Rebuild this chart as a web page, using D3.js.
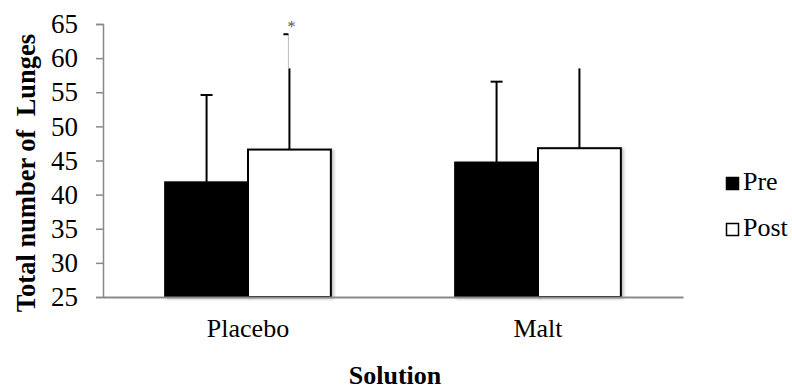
<!DOCTYPE html>
<html>
<head>
<meta charset="utf-8">
<script src="https://cdn.jsdelivr.net/npm/d3@7"></script>
<style>
  body { margin: 0; background: #fff; }
  svg { display: block; }
  svg text { font-family: "Liberation Serif", "Times New Roman", Tinos, serif !important; fill: #000; }
</style>
</head>
<body>
<svg id="chart"></svg>
<script>
// values
const solutions = ['Placebo', 'Malt']
const series = ['Pre', 'Post']
const preMeans = [41.8, 44.7]
const postMeans = [46.6, 46.8]
const preErr = [12.8, 11.85]
const postErr = [11.9, 11.7]
const yTicks = [25, 30, 35, 40, 45, 50, 55, 60, 65]
const sigTop = 63.5   // grey line with the * above Placebo / Post

const width = 792, height = 392
const marginTop = 24, marginRight = 109, marginBottom = 95, marginLeft = 103

const svg = d3.select('#chart')
              .attr('width', width)
              .attr('height', height)
              .attr('viewBox', [0, 0, width, height])

const defs = svg.append('defs')
const shadow = defs.append('filter').attr('id', 'shadow')
                   .attr('x', '-10%').attr('y', '-10%')
                   .attr('width', '130%').attr('height', '130%')
shadow.append('feDropShadow')
      .attr('dx', 2).attr('dy', 1)
      .attr('stdDeviation', 1.5)
      .attr('flood-color', '#000')
      .attr('flood-opacity', 0.25)

const xScale = d3.scaleBand(solutions, [marginLeft, width - marginRight])
const xInner = d3.scaleBand(series, [0, xScale.bandwidth()]).paddingOuter(0.75).paddingInner(0)
const yScale = d3.scaleLinear([25, 65], [height - marginBottom, marginTop])

const color = d3.scaleOrdinal(series, ['#000', '#fff'])

const rows = solutions.flatMap((s, i) => [
    {solution: s, key: 'Pre', value: preMeans[i], err: preErr[i]},
    {solution: s, key: 'Post', value: postMeans[i], err: postErr[i]},
])

// y axis
svg.append('g')
   .attr('transform', `translate(${marginLeft},0)`)
   .call(d3.axisLeft(yScale).tickValues(yTicks).tickSize(7).tickSizeOuter(7).tickPadding(18))
   .call(g => g.attr('font-family', null))
   .call(g => g.select('.domain').attr('stroke', '#898989').attr('stroke-width', 1.5))
   .call(g => g.selectAll('.tick line').attr('stroke', '#898989').attr('stroke-width', 1.5))
   .call(g => g.selectAll('.tick text')
               .attr('font-size', 27)
               .attr('fill', '#111'))

// bars
const bar = svg.append('g')
   .selectAll('rect')
   .data(rows)
   .join('rect')
     .attr('x', d => xScale(d.solution) + xInner(d.key))
     .attr('width', xInner.bandwidth())
     .attr('y', d => yScale(d.value))
     .attr('height', d => yScale(25) - yScale(d.value))
     .attr('fill', d => color(d.key))
     .attr('stroke', '#000')
     .attr('stroke-width', 2)
     .attr('filter', 'url(#shadow)')

// error bars (upper only)
const cx = d => xScale(d.solution) + xInner(d.key) + xInner.bandwidth() / 2
const errs = svg.append('g').attr('stroke', '#000').attr('stroke-width', 2)
errs.selectAll('line.err')
    .data(rows)
    .join('line')
      .attr('class', 'err')
      .attr('x1', cx).attr('x2', cx)
      .attr('y1', d => yScale(d.value))
      .attr('y2', d => yScale(d.value + d.err))
// caps on the Pre bars only, as in the picture
errs.selectAll('line.cap')
    .data(rows.filter(d => d.key === 'Pre'))
    .join('line')
      .attr('class', 'cap')
      .attr('x1', d => cx(d) - 6).attr('x2', d => cx(d) + 6)
      .attr('y1', d => yScale(d.value + d.err))
      .attr('y2', d => yScale(d.value + d.err))

// significance marker over Placebo / Post
const sig = rows.find(d => d.solution === 'Placebo' && d.key === 'Post')
svg.append('line')
   .attr('x1', cx(sig) - 1).attr('x2', cx(sig) - 1)
   .attr('y1', yScale(sig.value + sig.err))
   .attr('y2', yScale(sigTop))
   .attr('stroke', '#bbb').attr('stroke-width', 1)
svg.append('line')
   .attr('x1', cx(sig) - 6).attr('x2', cx(sig) - 1)
   .attr('y1', yScale(sigTop)).attr('y2', yScale(sigTop))
   .attr('stroke', '#000').attr('stroke-width', 2)
svg.append('text')
   .attr('x', cx(sig) + 2)
   .attr('y', yScale(sigTop) - 2)
   .attr('text-anchor', 'middle')
   .attr('font-size', 16)
   .style('fill', '#555')
   .text('*')

// x axis baseline
svg.append('g')
   .attr('transform', `translate(0,${yScale(25)})`)
   .call(d3.axisBottom(xScale).tickSize(0).tickPadding(22))
   .call(g => g.attr('font-family', null))
   .call(g => g.select('.domain').attr('stroke', '#898989').attr('stroke-width', 2))
   .call(g => g.selectAll('.tick text')
               .attr('font-size', 26)
               .attr('fill', '#000'))

// axis titles
svg.append('text')
   .attr('x', (marginLeft + width - marginRight) / 2 + 2)
   .attr('y', 384)
   .attr('text-anchor', 'middle')
   .attr('font-weight', 'bold')
   .attr('font-size', 26)
   .text('Solution')

svg.append('text')
   .attr('transform', `translate(35,${173}) rotate(-90)`)
   .attr('text-anchor', 'middle')
   .attr('font-weight', 'bold')
   .attr('font-size', 26.5)
   .attr('xml:space', 'preserve')
   .style('white-space', 'pre')
   .text('Total number of  Lunges')

// legend
const legend = svg.append('g')
   .selectAll('g')
   .data(series)
   .join('g')
     .attr('transform', (d, i) => `translate(726,${177 + i * 46})`)
legend.append('rect')
      .attr('width', 12).attr('height', 12)
      .attr('x', 0.5).attr('y', 0.5)
      .attr('fill', d => color(d))
      .attr('stroke', '#000').attr('stroke-width', 1.5)
legend.append('text')
      .attr('x', 17)
      .attr('y', 13)
      .attr('font-size', 26)
      .text(d => d)
</script>
</body>
</html>
